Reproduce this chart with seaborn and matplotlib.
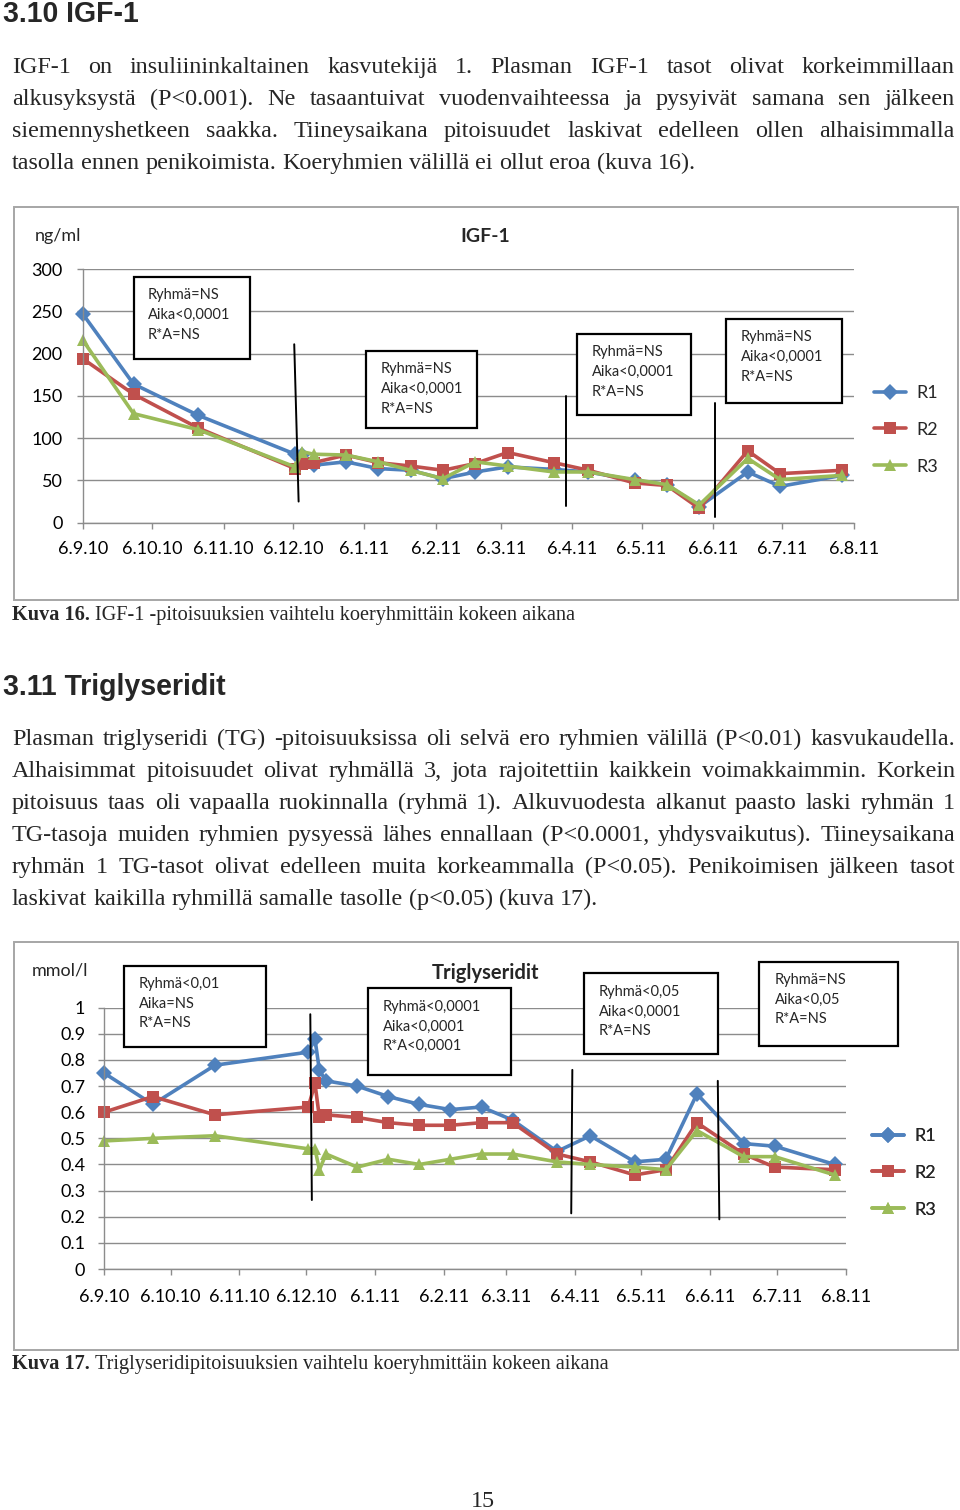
import numpy as np
import pandas as pd
import matplotlib
matplotlib.use("Agg")
import matplotlib.pyplot as plt
from matplotlib.patches import Rectangle
import seaborn as sns

# ---------------- data ----------------
groups = ["R1", "R2", "R3"]
colors = ["#4F81BD", "#C0504D", "#9BBB59"]
marker_shapes = ["D", "s", "^"]

month_labels = ["6.9.10", "6.10.10", "6.11.10", "6.12.10", "6.1.11", "6.2.11",
                "6.3.11", "6.4.11", "6.5.11", "6.6.11", "6.7.11", "6.8.11"]

igf_dates = ["2010-09-06", "2010-09-28", "2010-10-26", "2010-12-07", "2010-12-10",
             "2010-12-15", "2010-12-29", "2011-01-12", "2011-01-26", "2011-02-09",
             "2011-02-23", "2011-03-09", "2011-03-29", "2011-04-13", "2011-05-03",
             "2011-05-17", "2011-05-31", "2011-06-21", "2011-07-05", "2011-08-01"]
igf_r1 = [247, 164, 127, 81, 80, 68, 72, 64, 62, 52, 60, 66, 63, 60, 50, 45, 19, 60, 43, 56]
igf_r2 = [194, 152, 112, 64, 70, 71, 80, 71, 67, 62, 70, 83, 71, 62, 47, 44, 17, 85, 58, 62]
igf_r3 = [216, 129, 110, 66, 84, 81, 80, 72, 62, 52, 72, 67, 60, 60, 51, 45, 21, 76, 51, 56]

tg_dates = ["2010-09-06", "2010-09-28", "2010-10-26", "2010-12-07", "2010-12-10",
            "2010-12-12", "2010-12-15", "2010-12-29", "2011-01-12", "2011-01-26",
            "2011-02-09", "2011-02-23", "2011-03-09", "2011-03-29", "2011-04-13",
            "2011-05-03", "2011-05-17", "2011-05-31", "2011-06-21", "2011-07-05",
            "2011-08-01"]
tg_r1 = [0.75, 0.63, 0.78, 0.83, 0.88, 0.76, 0.72, 0.70, 0.66, 0.63, 0.61, 0.62,
         0.57, 0.45, 0.51, 0.41, 0.42, 0.67, 0.48, 0.47, 0.40]
tg_r2 = [0.60, 0.66, 0.59, 0.62, 0.71, 0.58, 0.59, 0.58, 0.56, 0.55, 0.55, 0.56,
         0.56, 0.44, 0.41, 0.36, 0.38, 0.56, 0.44, 0.39, 0.38]
tg_r3 = [0.49, 0.50, 0.51, 0.46, 0.46, 0.38, 0.44, 0.39, 0.42, 0.40, 0.42, 0.44,
         0.44, 0.41, 0.40, 0.39, 0.38, 0.53, 0.43, 0.43, 0.36]

igf_yticks = [0, 50, 100, 150, 200, 250, 300]
tg_yticks = [0, 0.1, 0.2, 0.3, 0.4, 0.5, 0.6, 0.7, 0.8, 0.9, 1.0]
tg_ytick_labels = ["0", "0.1", "0.2", "0.3", "0.4", "0.5", "0.6", "0.7", "0.8", "0.9", "1"]

igf_stats = [["Ryhmä=NS", "Aika<0,0001", "R*A=NS"]] * 4
tg_stats = [["Ryhmä<0,01", "Aika=NS", "R*A=NS"],
            ["Ryhmä<0,0001", "Aika<0,0001", "R*A<0,0001"],
            ["Ryhmä<0,05", "Aika<0,0001", "R*A=NS"],
            ["Ryhmä=NS", "Aika<0,05", "R*A=NS"]]

heading1 = "3.10 IGF-1"
para1 = ["IGF-1 on insuliininkaltainen kasvutekijä 1. Plasman IGF-1 tasot olivat korkeimmillaan",
         "alkusyksystä (P<0.001). Ne tasaantuivat vuodenvaihteessa ja pysyivät samana sen jälkeen",
         "siemennyshetkeen saakka. Tiineysaikana pitoisuudet laskivat edelleen ollen alhaisimmalla",
         "tasolla ennen penikoimista. Koeryhmien välillä ei ollut eroa (kuva 16)."]
caption1 = ("Kuva 16.", "IGF-1 -pitoisuuksien vaihtelu koeryhmittäin kokeen aikana")
heading2 = "3.11 Triglyseridit"
para2 = ["Plasman triglyseridi (TG) -pitoisuuksissa oli selvä ero ryhmien välillä (P<0.01) kasvukaudella.",
         "Alhaisimmat pitoisuudet olivat ryhmällä 3, jota rajoitettiin kaikkein voimakkaimmin. Korkein",
         "pitoisuus taas oli vapaalla ruokinnalla (ryhmä 1). Alkuvuodesta alkanut paasto laski ryhmän 1",
         "TG-tasoja muiden ryhmien pysyessä lähes ennallaan (P<0.0001, yhdysvaikutus). Tiineysaikana",
         "ryhmän 1 TG-tasot olivat edelleen muita korkeammalla (P<0.05). Penikoimisen jälkeen tasot",
         "laskivat kaikilla ryhmillä samalle tasolle (p<0.05) (kuva 17)."]
caption2 = ("Kuva 17.", "Triglyseridipitoisuuksien vaihtelu koeryhmittäin kokeen aikana")
page_number = "15"

# ---------------- setup ----------------
sns.set_theme(style="white")
CHART_FONT = ["Lato", "DejaVu Sans"]
SERIF = ["Liberation Serif", "DejaVu Serif"]
SANS = ["Liberation Sans", "DejaVu Sans"]
plt.rcParams["font.family"] = CHART_FONT

W, H = 960, 1510
fig = plt.figure(figsize=(W / 100, H / 100), dpi=100, facecolor="white")
renderer = fig.canvas.get_renderer()


def px_rect(l, t, r, b):
    return [l / W, 1 - b / H, (r - l) / W, (b - t) / H]


bg = fig.add_axes([0, 0, 1, 1], zorder=0)
bg.set_xlim(0, W); bg.set_ylim(H, 0); bg.axis("off")
ov = fig.add_axes([0, 0, 1, 1], zorder=10)
ov.set_xlim(0, W); ov.set_ylim(H, 0); ov.axis("off"); ov.patch.set_alpha(0)

GRID = "#8c8c8c"
start = pd.Timestamp("2010-09-06")
month_dates = pd.to_datetime(month_labels, format="%d.%m.%y")


def long_df(dates, series):
    frames = [pd.DataFrame({"date": pd.to_datetime(dates), "value": vals, "group": g})
              for g, vals in zip(groups, series)]
    return pd.concat(frames, ignore_index=True)


def draw_chart(rect, dates, series, ylim, yticks, ylabels, ypad, xpad, vlines):
    ax = fig.add_axes(rect, zorder=5)
    ax.patch.set_alpha(0)
    df = long_df(dates, series)
    sns.lineplot(data=df, x="date", y="value", hue="group", style="group",
                 palette=dict(zip(groups, colors)),
                 markers=dict(zip(groups, marker_shapes)), dashes=False,
                 linewidth=2.6, markersize=8, markeredgewidth=0,
                 estimator=None, sort=False, ax=ax, clip_on=False, legend=True)
    handles, labels = ax.get_legend_handles_labels()
    ax.get_legend().remove()
    ax.set_xlim(start, pd.Timestamp("2011-08-06"))
    ax.set_ylim(*ylim)
    ax.set_yticks(yticks)
    ax.set_yticklabels(ylabels)
    ax.set_xticks(month_dates)
    ax.set_xticklabels(month_labels)
    ax.set_xlabel(""); ax.set_ylabel("")
    ax.yaxis.grid(True, color=GRID, lw=1.0)
    ax.xaxis.grid(False)
    ax.set_axisbelow(True)
    for s in ["top", "right"]:
        ax.spines[s].set_visible(False)
    for s in ["left", "bottom"]:
        ax.spines[s].set_color(GRID)
        ax.spines[s].set_linewidth(1.0)
    ax.tick_params(axis="both", direction="out", length=4.5, width=1.0, color=GRID,
                   labelsize=13, labelcolor="black")
    ax.tick_params(axis="y", pad=ypad, left=True)
    ax.tick_params(axis="x", pad=xpad, bottom=True)
    for (d0, v0, d1, v1) in vlines:
        ax.plot([start + pd.Timedelta(days=d0), start + pd.Timedelta(days=d1)], [v0, v1],
                color="black", lw=1.4, zorder=6, clip_on=False)
    return ax, handles, labels


def stat_box(l, t, r, b, lines, x_text, y_first, step):
    ov.add_patch(Rectangle((l, t), r - l, b - t, facecolor="white", edgecolor="black",
                           lw=1.6, zorder=3))
    for i, s in enumerate(lines):
        ov.text(x_text, y_first + i * step, s, fontsize=10.5, va="center", ha="left",
                family=CHART_FONT, zorder=4)


def width_of(s, **kw):
    t = ov.text(0, 0, s, **kw)
    w = t.get_window_extent(renderer).width
    t.remove()
    return w


def calibrate(sample, target, size, **kw):
    return size * target / width_of(sample, fontsize=size, **kw)


def justified(line, y, size, x0=12, x1=955, justify=True):
    words = line.split(" ")
    ws = [width_of(w, fontsize=size, family=SERIF) for w in words]
    full = width_of(line, fontsize=size, family=SERIF)
    space = (full - sum(ws)) / max(len(words) - 1, 1)
    gap = (x1 - x0 - sum(ws)) / (len(words) - 1) if justify and len(words) > 1 else space
    x = x0
    for w, wd in zip(words, ws):
        ov.text(x, y, w, fontsize=size, family=SERIF, va="baseline", ha="left")
        x += wd + gap


def legend_at(handles, labels, x, y):
    leg = ov.legend(handles, labels, loc="upper left", bbox_to_anchor=(x, y),
                    bbox_transform=ov.transData, frameon=False, fontsize=13,
                    handlelength=1.75, handletextpad=0.6, labelspacing=1.15,
                    borderpad=0, borderaxespad=0)
    ov.add_artist(leg)
    return leg


# ---------------- page text ----------------
body_size = calibrate(para1[3], 683, 16.5, family=SERIF)
head_size = calibrate(heading2, 223, 20, family=SANS, weight="bold")
cap_size = calibrate(caption1[0] + " " + caption1[1], 558, 14.5, family=SERIF)

ov.text(3, 22, heading1, fontsize=head_size, family=SANS, weight="bold", va="baseline")
for i, line in enumerate(para1):
    justified(line, 72.7 + 32 * i, body_size, justify=(i < len(para1) - 1))

ov.text(3, 695, heading2, fontsize=head_size, family=SANS, weight="bold", va="baseline")
for i, line in enumerate(para2):
    justified(line, 744.7 + 32 * i, body_size, justify=(i < len(para2) - 1))


def caption(parts, y):
    b = ov.text(12, y, parts[0], fontsize=cap_size, family=SERIF, weight="bold", va="baseline")
    wb = b.get_window_extent(renderer).width
    sp = width_of("a a", fontsize=cap_size, family=SERIF) - width_of("aa", fontsize=cap_size, family=SERIF)
    ov.text(12 + wb + sp, y, parts[1], fontsize=cap_size, family=SERIF, va="baseline")


caption(caption1, 620)
caption(caption2, 1369)
ov.text(483, 1507, page_number, fontsize=body_size, family=SERIF, ha="center", va="baseline")

# chart frames
for (l, t, r, b) in [(14, 207, 958, 600), (14, 942, 958, 1350)]:
    bg.add_patch(Rectangle((l, t), r - l, b - t, facecolor="white", edgecolor="#a6a6a6", lw=1.4))

# ---------------- chart 1: IGF-1 ----------------
ax1, h1, l1 = draw_chart(px_rect(82.7, 269, 854, 522.7), igf_dates, [igf_r1, igf_r2, igf_r3],
                         (0, 300), igf_yticks, [str(v) for v in igf_yticks], 10, 9,
                         [(91.6, 211, 93.5, 25), (209.2, 150, 209.2, 20), (273.8, 142, 273.8, 7)])
ov.text(35, 236, "ng/ml", fontsize=13, va="center", ha="left", family=CHART_FONT)
ov.text(485, 237, "IGF-1", fontsize=14, va="center", ha="center", weight="bold", family=CHART_FONT)
for (box, lines) in zip([(134, 277, 250, 359, 148, 295), (366, 351, 477, 428, 381, 369),
                         (577, 334, 691, 415, 592, 352), (726, 319, 842, 403, 741, 337)], igf_stats):
    l, t, r, b, xt, yt = box
    stat_box(l, t, r, b, lines, xt, yt, 20)
legend_at(h1, l1, 874, 385)

# ---------------- chart 2: Triglyseridit ----------------
ax2, h2, l2 = draw_chart(px_rect(104, 1007.7, 845.7, 1269), tg_dates, [tg_r1, tg_r2, tg_r3],
                         (0, 1), tg_yticks, tg_ytick_labels, 9, 10,
                         [(92.9, 0.975, 93.6, 0.264), (210.9, 0.762, 210.4, 0.213),
                          (276.4, 0.72, 277.1, 0.19)])
ov.text(32, 970, "mmol/l", fontsize=13, va="center", ha="left", family=CHART_FONT)
ov.text(486, 973, "Triglyseridit", fontsize=14.5, va="center", ha="center", weight="bold",
        family=CHART_FONT)
for (box, lines) in zip([(124, 966, 266, 1047, 139, 984), (368, 988, 511, 1075, 383, 1007),
                         (584, 973, 718, 1054, 599, 992), (759, 962, 898, 1046, 775, 980)], tg_stats):
    l, t, r, b, xt, yt = box
    stat_box(l, t, r, b, lines, xt, yt, 19.5)
legend_at(h2, l2, 872, 1128)

fig.savefig("out.png", dpi=100, facecolor="white")
